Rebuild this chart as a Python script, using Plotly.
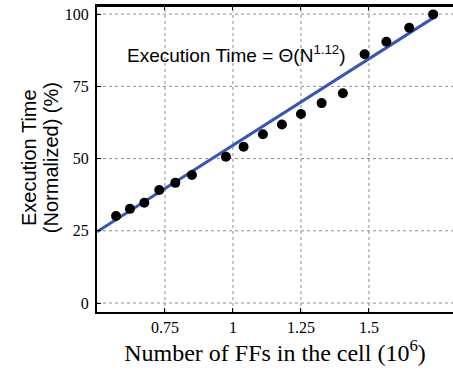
import plotly.graph_objects as go

# Data
ffs_millions = [0.570, 0.621, 0.674, 0.729, 0.788, 0.849, 0.974, 1.039, 1.110,
                1.180, 1.250, 1.326, 1.404, 1.484, 1.564, 1.648, 1.736]
exec_time_pct = [30.1, 32.6, 34.7, 39.1, 41.6, 44.3, 50.6, 54.1, 58.4,
                 61.8, 65.4, 69.2, 72.6, 86.1, 90.4, 95.3, 99.9]
fit_x = [0.5, 1.735]
fit_y = [24.7, 98.6]
x_tickvals = [0.75, 1, 1.25, 1.5]
x_ticktext = ["0.75", "1", "1.25", "1.5"]
y_tickvals = [0, 25, 50, 75, 100]
y_ticktext = ["0", "25", "50", "75", "100"]

fig = go.Figure()
fig.add_trace(go.Scatter(x=fit_x, y=fit_y, mode="lines",
                         line=dict(color="rgb(58,86,178)", width=3),
                         hoverinfo="skip", showlegend=False))
fig.add_trace(go.Scatter(x=ffs_millions, y=exec_time_pct, mode="markers",
                         marker=dict(color="black", size=10),
                         showlegend=False))

serif = "Liberation Serif, Times New Roman, serif"
sans = "Liberation Sans, Arial, sans-serif"

axis_common = dict(
    showline=True, linecolor="black", linewidth=2,
    ticks="inside", ticklen=4, tickcolor="black", tickwidth=1,
    showgrid=False, zeroline=False,
    tickfont=dict(family=serif, size=16, color="black"),
)

fig.update_xaxes(range=[0.5, 1.809], tickvals=x_tickvals, ticktext=x_ticktext,
                 mirror="ticks",
                 title=dict(text="Number of FFs in the cell (10<sup>6</sup>)",
                            font=dict(family=serif, size=24, color="black"),
                            standoff=5),
                 **axis_common)
fig.update_yaxes(range=[-3.1, 102.8], tickvals=y_tickvals, ticktext=y_ticktext,
                 mirror=False, ticklabelstandoff=3, **axis_common)

grid_line = dict(color="#8c8c8c", width=1, dash="dot")
for xv in x_tickvals:
    fig.add_shape(type="line", xref="x", yref="paper", x0=xv, x1=xv, y0=0, y1=1,
                  line=grid_line, layer="below")
for yv in y_tickvals:
    fig.add_shape(type="line", xref="paper", yref="y", x0=0, x1=1, y0=yv, y1=yv,
                  line=grid_line, layer="below")
# top frame line
fig.add_shape(type="line", xref="paper", yref="paper", x0=0, x1=1, y0=1, y1=1,
              line=dict(color="black", width=2))

fig.add_annotation(text="Execution Time", xref="paper", yref="paper",
                   x=-0.191, y=0.503, xanchor="center", yanchor="middle",
                   textangle=-90, showarrow=False,
                   font=dict(family=sans, size=20, color="black"))
fig.add_annotation(text="(Normalized) (%)", xref="paper", yref="paper",
                   x=-0.129, y=0.503, xanchor="center", yanchor="middle",
                   textangle=-90, showarrow=False,
                   font=dict(family=sans, size=20, color="black"))
fig.add_annotation(text="Execution Time = \u0398(N<sup>1.12</sup>)",
                   xref="x", yref="y", x=0.603, y=86.3,
                   xanchor="left", yanchor="middle", showarrow=False,
                   font=dict(family=sans, size=19, color="black"))

fig.update_layout(width=453, height=372,
                  margin=dict(l=97, r=0, t=6, b=60, autoexpand=False),
                  plot_bgcolor="white", paper_bgcolor="white")

fig.write_html("out.html")
